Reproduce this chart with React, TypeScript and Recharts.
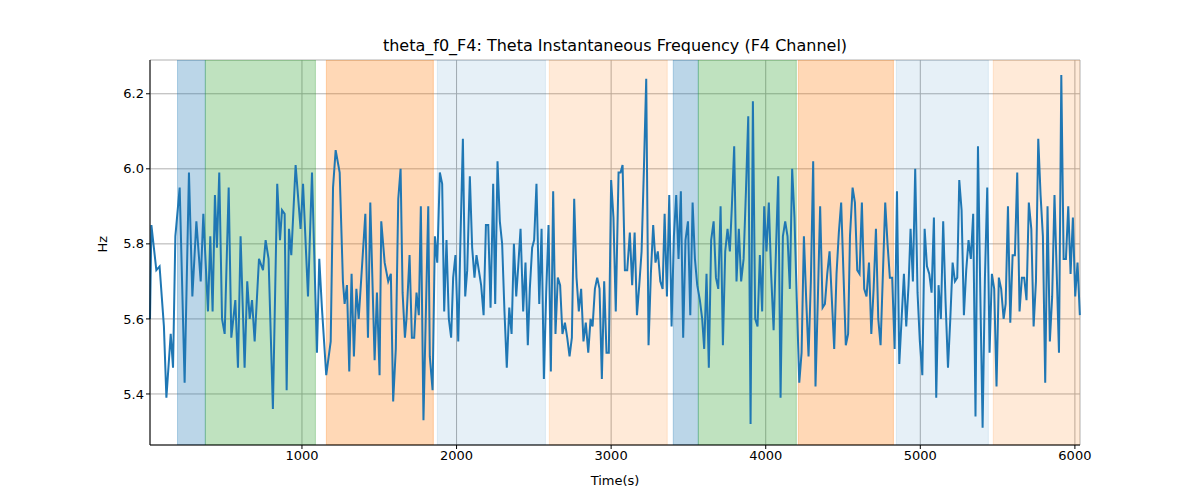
import {
  ComposedChart, Line, XAxis, YAxis, CartesianGrid, ReferenceArea,
} from 'recharts'

const times = [
  17, 26, 58, 79, 107, 123, 151, 166, 181, 209, 241, 269, 291, 317, 345, 362, 392, 407, 422, 437,
  450, 465, 483, 500, 526, 543, 569, 586, 603, 629, 646, 662, 677, 694, 722, 748, 765, 784, 812, 840,
  858, 871, 888, 901, 916, 931, 959, 991, 1007, 1039, 1065, 1097, 1112, 1129, 1157, 1186, 1201, 1218, 1244, 1265,
  1276, 1291, 1306, 1321, 1336, 1352, 1367, 1410, 1427, 1442, 1470, 1485, 1502, 1513, 1535, 1558,
  1575, 1590, 1607, 1623, 1638, 1651, 1666, 1676, 1696, 1711, 1726, 1741, 1756, 1769, 1786, 1817, 1827, 1845, 1860, 1875,
  1892, 1907, 1920, 1935, 1950, 1965, 1978, 1993, 2011, 2024, 2041, 2056, 2069, 2086, 2101, 2116, 2129, 2144, 2159, 2175,
  2190, 2205, 2220, 2237, 2250, 2265, 2280, 2295, 2310, 2325, 2341, 2356, 2371, 2386, 2399, 2414, 2431, 2446, 2461, 2474,
  2489, 2502, 2517, 2535, 2550, 2565, 2580, 2595, 2610, 2625, 2640, 2655, 2670, 2685, 2701, 2716, 2731, 2746, 2761, 2776,
  2791, 2806, 2821, 2836, 2852, 2867, 2880, 2895, 2910, 2925, 2940, 2955, 2970, 2985, 3000, 3015, 3030, 3048,
  3061, 3074, 3089, 3104, 3121, 3136, 3152, 3167, 3182, 3197, 3212, 3227, 3242, 3257, 3272, 3287, 3302, 3318, 3333, 3346,
  3361, 3376, 3391, 3406, 3421, 3436, 3451, 3466, 3481, 3497, 3512, 3527, 3542, 3557, 3574, 3589, 3602, 3617, 3632, 3647,
  3663, 3678, 3693, 3708, 3723, 3738, 3753, 3768, 3781, 3796, 3811, 3826, 3841, 3857, 3872, 3887, 3902, 3917, 3932, 3947,
  3962, 3977, 3990, 4005, 4020, 4035, 4051, 4066, 4081, 4096, 4111, 4126, 4141, 4156, 4171, 4186, 4201, 4217, 4232, 4247,
  4262, 4277, 4292, 4307, 4322, 4337, 4352, 4368, 4383, 4398, 4413, 4428, 4443, 4458, 4473, 4488, 4503, 4518, 4533,
  4545, 4562, 4577, 4592, 4607, 4622, 4637, 4652, 4668, 4683, 4698, 4713, 4728, 4743, 4758, 4773, 4788, 4803, 4818, 4834,
  4849, 4864, 4879, 4894, 4909, 4924, 4937, 4952, 4967, 4982, 4997, 5013, 5028, 5043, 5058, 5073, 5088, 5103, 5118, 5133,
  5148, 5163, 5179, 5194, 5209, 5224, 5239, 5252, 5267, 5282, 5297, 5312, 5327, 5342, 5357, 5373, 5388, 5403, 5418, 5433,
  5448, 5463, 5478, 5493, 5508, 5523, 5539, 5552, 5567, 5582, 5597, 5612, 5627, 5642, 5657, 5672, 5687, 5702, 5718, 5733,
  5748, 5763, 5778, 5793, 5808, 5823, 5838, 5853, 5868, 5884, 5897, 5912, 5927, 5942, 5957, 5972, 5987, 6002, 6017, 6032,
]

const freq = [
  5.6, 5.85, 5.73, 5.74, 5.58, 5.39, 5.56, 5.47, 5.82, 5.95, 5.43, 5.99, 5.66, 5.86, 5.7, 5.88, 5.62, 5.82, 5.62, 5.93,
  5.79, 5.99, 5.6, 5.56, 5.95, 5.55, 5.65, 5.47, 5.82, 5.47, 5.7, 5.6, 5.65, 5.54, 5.76, 5.73, 5.81, 5.76, 5.36, 5.96,
  5.81, 5.89, 5.88, 5.41, 5.84, 5.77, 6.01, 5.84, 5.96, 5.66, 5.99, 5.51, 5.76, 5.63, 5.45, 5.54, 5.95, 6.05, 5.99, 5.7,
  5.64, 5.69, 5.46, 5.72, 5.5, 5.68, 5.6, 5.88, 5.55, 5.91, 5.49, 5.67, 5.45, 5.86, 5.75, 5.7,
  5.72, 5.38, 5.52, 5.92, 6.0, 5.67, 5.55, 5.6, 5.77, 5.55, 5.55, 5.67, 5.61, 5.9, 5.33, 5.9, 5.5, 5.41, 5.82, 5.75,
  5.99, 5.96, 5.62, 5.81, 5.6, 5.55, 5.71, 5.77, 5.54, 5.79, 6.08, 5.66, 5.73, 5.98, 5.79, 5.71, 5.77, 5.73, 5.69, 5.61,
  5.85, 5.85, 5.63, 5.96, 5.64, 6.02, 5.86, 5.8, 5.62, 5.47, 5.63, 5.56, 5.8, 5.66, 5.74, 5.84, 5.62, 5.75, 5.53, 5.68,
  5.79, 5.81, 5.96, 5.64, 5.84, 5.44, 5.67, 5.85, 5.46, 5.94, 5.56, 5.71, 5.69, 5.56, 5.59, 5.55, 5.5, 5.55, 5.92, 5.71,
  5.62, 5.68, 5.54, 5.59, 5.51, 5.6, 5.58, 5.68, 5.71, 5.68, 5.44, 5.7, 5.51, 5.51, 5.97, 5.87, 5.62, 5.99,
  5.99, 6.01, 5.73, 5.73, 5.83, 5.69, 5.83, 5.61, 5.69, 5.78, 6.0, 6.24, 5.53, 5.72, 5.85, 5.75, 5.78, 5.7, 5.68, 5.88,
  5.66, 5.93, 5.58, 5.82, 5.93, 5.76, 5.94, 5.55, 5.81, 5.86, 5.61, 5.91, 5.76, 5.69, 5.65, 5.6, 5.52, 5.72, 5.47, 5.81,
  5.86, 5.71, 5.68, 5.9, 5.53, 5.78, 5.84, 5.78, 5.9, 6.06, 5.7, 5.84, 5.7, 5.76, 5.94, 6.14, 5.32, 6.18, 5.6, 5.58,
  5.77, 5.62, 5.9, 5.78, 5.91, 5.72, 5.57, 5.78, 5.98, 5.39, 5.82, 5.86, 5.82, 5.68, 6.0, 5.87, 5.65, 5.43, 5.51, 5.82,
  5.65, 5.5, 5.7, 6.02, 5.42, 5.65, 5.9, 5.63, 5.64, 5.72, 5.78, 5.65, 5.52, 5.72, 5.83, 5.91, 5.72, 5.53, 5.56,
  5.82, 5.95, 5.91, 5.73, 5.72, 5.91, 5.68, 5.66, 5.75, 5.56, 5.68, 5.84, 5.6, 5.53, 5.72, 5.91, 5.8, 5.71, 5.71, 5.52,
  5.94, 5.48, 5.6, 5.72, 5.58, 5.69, 5.84, 5.7, 6.0, 5.67, 5.54, 5.45, 5.84, 5.74, 5.72, 5.67, 5.87, 5.39, 5.69, 5.6,
  5.86, 5.65, 5.47, 5.6, 5.75, 5.7, 5.71, 5.97, 5.89, 5.61, 5.73, 5.81, 5.76, 5.88, 5.34, 6.06, 5.67, 5.31, 5.71, 5.95,
  5.51, 5.72, 5.68, 5.42, 5.71, 5.68, 5.6, 5.64, 5.9, 5.59, 5.77, 5.77, 5.99, 5.62, 5.71, 5.71, 5.65, 5.91, 5.84, 5.58,
  5.7, 6.08, 5.93, 5.82, 5.43, 5.9, 5.54, 5.66, 5.93, 5.7, 5.51, 6.25, 5.76, 5.76, 5.9, 5.72, 5.87, 5.66, 5.75, 5.61,
]

// shaded phases: [start, end, colour, opacity]
const phases: [number, number, string, number][] = [
  [195, 375, '#1f77b4', 0.3],
  [375, 1087, '#2ca02c', 0.3],
  [1158, 1850, '#ff7f0e', 0.3],
  [1876, 2575, '#1f77b4', 0.11],
  [2600, 3363, '#ff7f0e', 0.16],
  [3402, 3564, '#1f77b4', 0.3],
  [3564, 4198, '#2ca02c', 0.3],
  [4211, 4826, '#ff7f0e', 0.3],
  [4845, 5440, '#1f77b4', 0.11],
  [5472, 6040, '#ff7f0e', 0.16],
]

const xTicks = [1000, 2000, 3000, 4000, 5000, 6000]
const yTicks = [5.4, 5.6, 5.8, 6.0, 6.2]

const data = times.map((t, i) => ({ t, f: freq[i] }))

const font = '"DejaVu Sans", sans-serif'

export default function App() {
  return (
    <div style={{ position: 'absolute', left: 0, top: 0, width: 1200, height: 500, background: '#fff', fontFamily: font }}>
      <div style={{ position: 'absolute', top: 36, left: 0, width: 1200, boxSizing: 'border-box', paddingLeft: 30, textAlign: 'center', fontSize: 16, color: '#000' }}>
        theta_f0_F4: Theta Instantaneous Frequency (F4 Channel)
      </div>
      <ComposedChart
        width={1200}
        height={500}
        data={data}
        margin={{ top: 60, right: 120, bottom: 25, left: 100 }}
      >
        {phases.map(([a, b, c, o], i) => (
          <ReferenceArea key={i} x1={a} x2={b} fill={c} fillOpacity={o} stroke={c} strokeOpacity={o} ifOverflow="hidden" />
        ))}
        <CartesianGrid stroke="#b0b0b0" strokeWidth={1} />
        <XAxis
          dataKey="t"
          type="number"
          domain={[17, 6033]}
          ticks={xTicks}
          height={30}
          stroke="#000"
          tick={{ fontSize: 13, fill: '#000', fontFamily: font }}
          tickSize={4}
          label={{ value: 'Time(s)', position: 'insideBottom', offset: -10, fontSize: 13, fill: '#000', fontFamily: font }}
        />
        <YAxis
          type="number"
          domain={[5.264, 6.29]}
          ticks={yTicks}
          width={50}
          stroke="#000"
          tickFormatter={(v: number) => v.toFixed(1)}
          tick={{ fontSize: 13, fill: '#000', fontFamily: font }}
          tickSize={4}
          label={{ value: 'Hz', angle: -90, position: 'insideLeft', offset: 2, fontSize: 13, fill: '#000', fontFamily: font }}
        />
        <Line dataKey="f" stroke="#1f77b4" strokeWidth={2} dot={false} isAnimationActive={false} />
      </ComposedChart>
    </div>
  )
}
